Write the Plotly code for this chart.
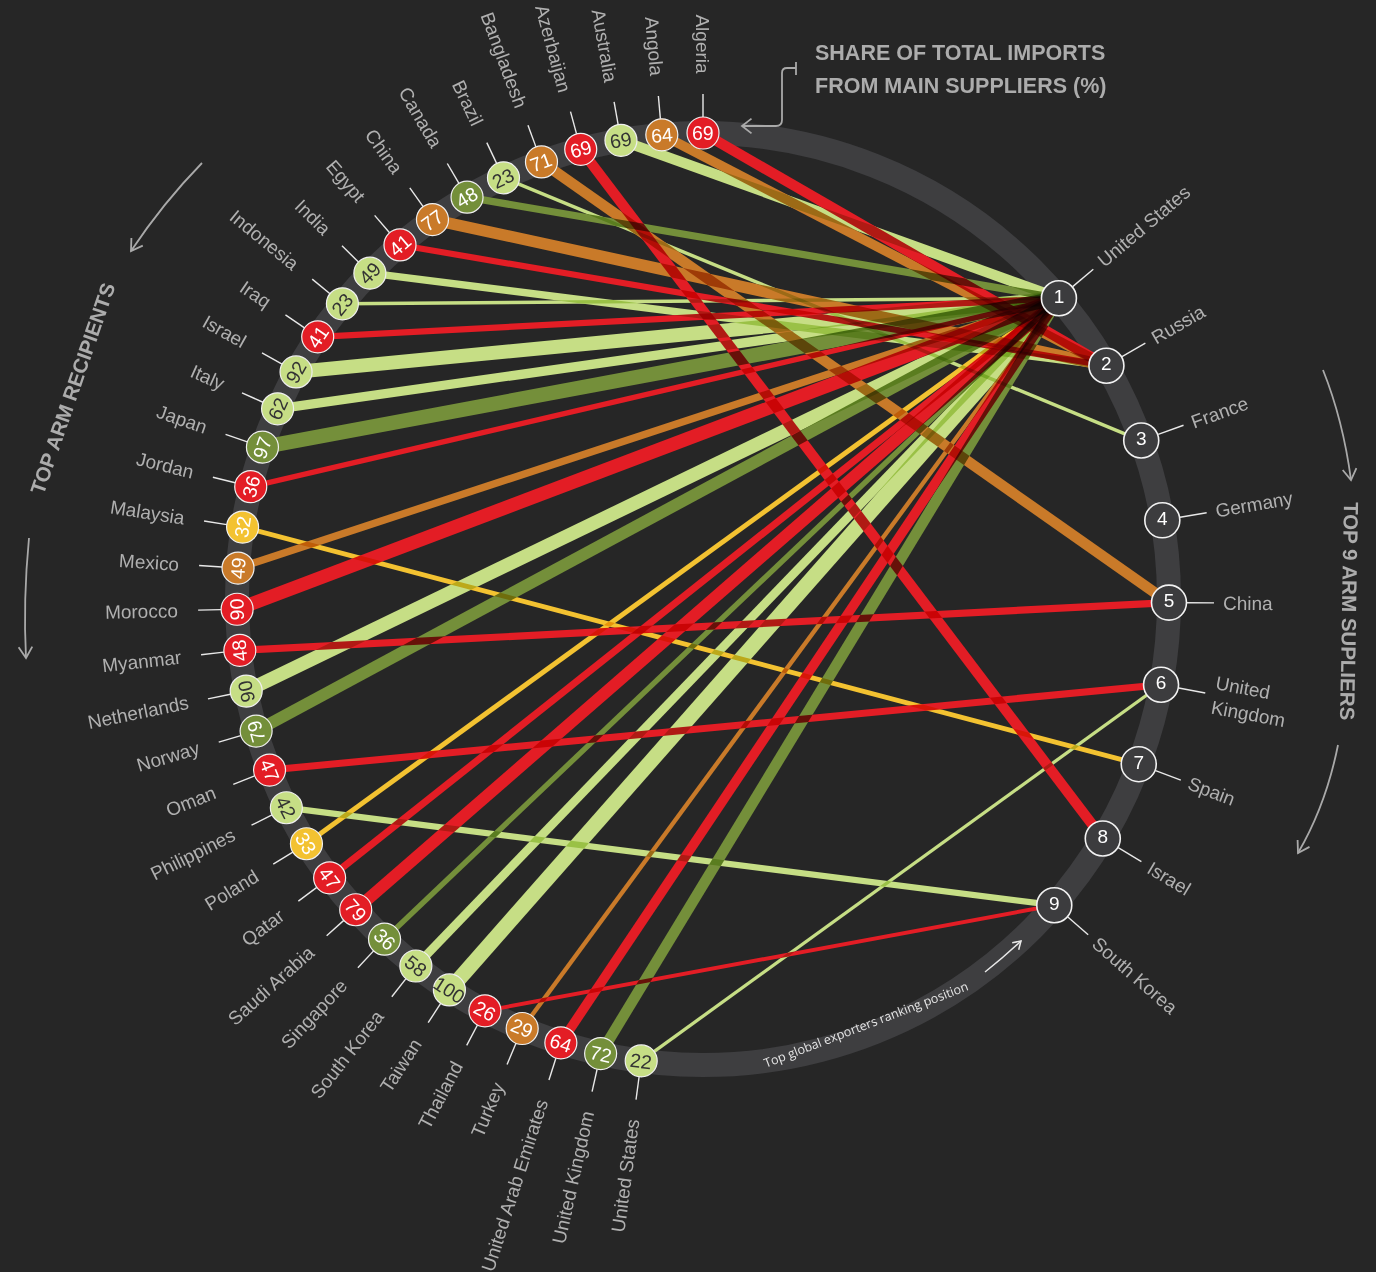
import numpy as np
import plotly.graph_objects as go

# ---------------- data ----------------
recipients = ["Algeria", "Angola", "Australia", "Azerbaijan", "Bangladesh", "Brazil", "Canada",
              "China", "Egypt", "India", "Indonesia", "Iraq", "Israel", "Italy", "Japan", "Jordan",
              "Malaysia", "Mexico", "Morocco", "Myanmar", "Netherlands", "Norway", "Oman",
              "Philippines", "Poland", "Qatar", "Saudi Arabia", "Singapore", "South Korea",
              "Taiwan", "Thailand", "Turkey", "United Arab Emirates", "United Kingdom",
              "United States"]
shares = [69, 64, 69, 69, 71, 23, 48, 77, 41, 49, 23, 41, 92, 62, 97, 36, 32, 49, 90, 48, 90,
          79, 47, 42, 33, 47, 79, 36, 58, 100, 26, 29, 64, 72, 22]
main_supplier_rank = [2, 2, 1, 8, 5, 3, 1, 2, 2, 2, 1, 1, 1, 1, 1, 1, 7, 1, 1, 5, 1, 1, 6, 9, 1,
                      1, 1, 1, 1, 1, 9, 1, 1, 1, 6]
groups = ["R", "O", "L", "R", "O", "L", "G", "O", "R", "L", "L", "R", "L", "L", "G", "R", "Y",
          "O", "R", "R", "L", "G", "R", "L", "Y", "R", "R", "G", "L", "L", "R", "O", "R", "G", "L"]
suppliers = ["United States", "Russia", "France", "Germany", "China", "United Kingdom", "Spain",
             "Israel", "South Korea"]
supplier_rank = [1, 2, 3, 4, 5, 6, 7, 8, 9]

group_color = {"R": "#e31d25", "O": "#c97a29", "L": "#c6de85", "G": "#748f3a", "Y": "#f3c231"}
group_text = {"R": "#ffffff", "O": "#ffffff", "L": "#333333", "G": "#ffffff", "Y": "#ffffff"}

# ---------------- geometry ----------------
BG = "#262626"
CX, CY, R = 703.0, 599.0, 466.0
REC_START, REC_STEP = 90.0, 5.07
SUP_START, SUP_STEP = 40.2, -10.16

AW = {' ': 278, 'A': 667, 'B': 667, 'C': 722, 'D': 722, 'E': 667, 'F': 611, 'G': 778, 'H': 722,
      'I': 278, 'J': 500, 'K': 667, 'L': 556, 'M': 833, 'N': 722, 'O': 778, 'P': 667, 'Q': 778,
      'R': 722, 'S': 667, 'T': 611, 'U': 722, 'V': 667, 'W': 944, 'X': 667, 'Y': 667, 'Z': 611,
      'a': 556, 'b': 556, 'c': 500, 'd': 556, 'e': 556, 'f': 278, 'g': 556, 'h': 556, 'i': 222,
      'j': 222, 'k': 500, 'l': 222, 'm': 833, 'n': 556, 'o': 556, 'p': 556, 'q': 556, 'r': 333,
      's': 500, 't': 278, 'u': 556, 'v': 500, 'w': 722, 'x': 500, 'y': 500, 'z': 500}


def text_w(s, size):
    return sum(AW.get(ch, 556) for ch in s) * size / 1000.0


def pol(theta_deg, r):
    t = np.radians(theta_deg)
    return CX + r * np.cos(t), CY - r * np.sin(t)


rec_theta = [REC_START + REC_STEP * i for i in range(len(recipients))]
sup_theta = [SUP_START + SUP_STEP * (k - 1) for k in supplier_rank]

LABEL_FONT = "Liberation Sans, Arial, sans-serif"
LABEL_SIZE = 19
LABEL_COLOR = "#b0b0b0"
HEAD_FONT = "Liberation Sans, Arial, sans-serif"
HEAD_COLOR = "#acacac"

fig = go.Figure()

# ---------------- chords ----------------
n_chords = 0
for i, name in enumerate(recipients):
    rx, ry = pol(rec_theta[i], R)
    s_idx = supplier_rank.index(main_supplier_rank[i])
    sx, sy = pol(sup_theta[s_idx], R)
    fig.add_trace(go.Scatter(x=[rx, sx], y=[ry, sy], mode="lines",
                             line=dict(color=group_color[groups[i]], width=shares[i] * 0.15),
                             hoverinfo="skip"))
    n_chords += 1

# ---------------- ticks ----------------
tx, ty = [], []
for th in rec_theta:
    a = pol(th, 482); b = pol(th, 505)
    tx += [a[0], b[0], None]; ty += [a[1], b[1], None]
for th in sup_theta:
    a = pol(th, 484); b = pol(th, 511)
    tx += [a[0], b[0], None]; ty += [a[1], b[1], None]
fig.add_trace(go.Scatter(x=tx, y=ty, mode="lines", line=dict(color="#e8e8e8", width=1.4),
                         hoverinfo="skip"))

# ---------------- recipient nodes ----------------
rxy = [pol(th, R) for th in rec_theta]
fig.add_trace(go.Scatter(x=[p[0] for p in rxy], y=[p[1] for p in rxy], mode="markers",
                         marker=dict(size=32, color=[group_color[g] for g in groups],
                                     line=dict(color="#f0f0f0", width=1.2)),
                         hoverinfo="skip"))

# ---------------- supplier nodes ----------------
sxy = [pol(th, R) for th in sup_theta]
fig.add_trace(go.Scatter(x=[p[0] for p in sxy], y=[p[1] for p in sxy], mode="markers+text",
                         marker=dict(size=35, color="#3c3c3e", line=dict(color="#f2f2f2", width=1.6)),
                         text=[str(k) for k in supplier_rank], textposition="middle center",
                         textfont=dict(family=LABEL_FONT, size=19, color="#ffffff"),
                         hoverinfo="skip"))

annotations = []
# numbers in recipient nodes
for i, th in enumerate(rec_theta):
    x, y = rxy[i]
    ang = 90 - th if th <= 199 else 270 - th
    annotations.append(dict(x=x, y=y, xref="x", yref="y", text=str(shares[i]), showarrow=False,
                            textangle=ang, xanchor="center", yanchor="middle",
                            font=dict(family=LABEL_FONT, size=19.5, color=group_text[groups[i]])))
# recipient labels
for i, th in enumerate(rec_theta):
    w = text_w(recipients[i], LABEL_SIZE)
    x, y = pol(th, 525 + w / 2)
    annotations.append(dict(x=x, y=y, xref="x", yref="y", text=recipients[i], showarrow=False,
                            textangle=180 - th, xanchor="center", yanchor="middle",
                            font=dict(family=LABEL_FONT, size=LABEL_SIZE, color=LABEL_COLOR)))
# supplier labels
for k, th in enumerate(sup_theta):
    name = suppliers[k]
    if name == "United Kingdom":
        txt = "United<br>Kingdom"
        w = text_w("Kingdom", LABEL_SIZE)
    else:
        txt = name
        w = text_w(name, LABEL_SIZE)
    x, y = pol(th, 520 + w / 2)
    annotations.append(dict(x=x, y=y, xref="x", yref="y", text=txt, showarrow=False, align="left",
                            textangle=-th, xanchor="center", yanchor="middle",
                            font=dict(family=LABEL_FONT, size=LABEL_SIZE, color=LABEL_COLOR)))

# headings
annotations.append(dict(x=813, y=53, xref="x", yref="y", xanchor="left", yanchor="middle",
                        showarrow=False, text="SHARE OF TOTAL IMPORTS",
                        font=dict(family=HEAD_FONT, size=21.5, color=HEAD_COLOR, weight="bold")))
annotations.append(dict(x=813, y=86, xref="x", yref="y", xanchor="left", yanchor="middle",
                        showarrow=False, text="FROM MAIN SUPPLIERS (%)",
                        font=dict(family=HEAD_FONT, size=21.5, color=HEAD_COLOR, weight="bold")))
annotations.append(dict(x=72, y=388, xref="x", yref="y", showarrow=False, textangle=-71,
                        text="TOP ARM RECIPIENTS",
                        font=dict(family=HEAD_FONT, size=20.5, color=HEAD_COLOR, weight="bold")))
annotations.append(dict(x=1350, y=611, xref="x", yref="y", showarrow=False, textangle=91,
                        text="TOP 9 ARM SUPLIERS",
                        font=dict(family=HEAD_FONT, size=20.5, color=HEAD_COLOR, weight="bold")))
annotations.append(dict(x=866, y=1024, xref="x", yref="y", showarrow=False, textangle=-21,
                        text="Top global exporters ranking position",
                        font=dict(family="Open Sans, sans-serif", size=12.5, color="#e4e4e4")))

# ---------------- decorative arrows ----------------
def head(tip, frm, L=13, spread=32):
    d = np.array(frm, float) - np.array(tip, float)
    d = d / np.linalg.norm(d)
    pts = []
    for sgn in (-1, 1):
        a = np.radians(spread * sgn)
        rot = np.array([d[0] * np.cos(a) - d[1] * np.sin(a), d[0] * np.sin(a) + d[1] * np.cos(a)])
        pts.append(np.array(tip) + L * rot)
    return "M %.1f %.1f L %.1f %.1f L %.1f %.1f" % (pts[0][0], pts[0][1], tip[0], tip[1],
                                                   pts[1][0], pts[1][1])


shapes = [dict(type="circle", xref="x", yref="y", x0=CX - R, x1=CX + R, y0=CY - R, y1=CY + R,
               line=dict(color="#3e3e40", width=24), layer="below")]
ARROW = "#a9a9a9"
curves = [((202, 163), (163, 203), (131, 251)),
          ((29, 538), (23, 600), (26, 658)),
          ((1323, 370), (1343, 420), (1351, 480)),
          ((1338, 745), (1326, 805), (1298, 853))]
for p0, c, p1 in curves:
    shapes.append(dict(type="path", xref="x", yref="y",
                       path="M %d %d Q %d %d %d %d" % (p0[0], p0[1], c[0], c[1], p1[0], p1[1]),
                       line=dict(color=ARROW, width=1.8)))
    shapes.append(dict(type="path", xref="x", yref="y", path=head(p1, c),
                       line=dict(color=ARROW, width=1.8)))
# small arrow along the ring
shapes.append(dict(type="path", xref="x", yref="y", path="M 985 972 Q 1004 957 1021 941",
                   line=dict(color="#e8e8e8", width=1.5)))
shapes.append(dict(type="path", xref="x", yref="y", path=head((1021, 941), (1004, 957), L=9),
                   line=dict(color="#e8e8e8", width=1.5)))
# bracket arrow near title
shapes.append(dict(type="path", xref="x", yref="y",
                   path="M 796 62 L 796 75 M 796 68 L 787 68 Q 782 68 782 73 L 782 120 "
                        "Q 782 126 776 126 L 742 126",
                   line=dict(color=ARROW, width=1.8)))
shapes.append(dict(type="path", xref="x", yref="y", path=head((742, 126), (760, 126), L=12, spread=38),
                   line=dict(color=ARROW, width=1.8)))

fig.update_layout(
    width=1376, height=1272, margin=dict(l=0, r=0, t=0, b=0),
    paper_bgcolor=BG, plot_bgcolor=BG, showlegend=False, hovermode=False,
    xaxis=dict(range=[0, 1376], visible=False, fixedrange=True),
    yaxis=dict(range=[1272, 0], visible=False, fixedrange=True),
    annotations=annotations, shapes=shapes,
)

post = """
document.body.style.margin = '0';
document.body.style.padding = '0';
document.body.style.background = '%s';
document.documentElement.style.overflow = 'hidden';
var gd = document.getElementById('{plot_id}');
function blendChords(){
  var layers = gd.querySelectorAll('.scatterlayer');
  layers.forEach(function(l){ l.style.isolation = 'isolate'; });
  var tr = gd.querySelectorAll('.scatterlayer .trace');
  for (var i = 0; i < %d && i < tr.length; i++) { tr[i].style.mixBlendMode = 'multiply'; }
}
blendChords();
if (gd.on) { gd.on('plotly_afterplot', blendChords); }
""" % (BG, n_chords)

fig.write_html("out.html", post_script=post, config={"displayModeBar": False})
